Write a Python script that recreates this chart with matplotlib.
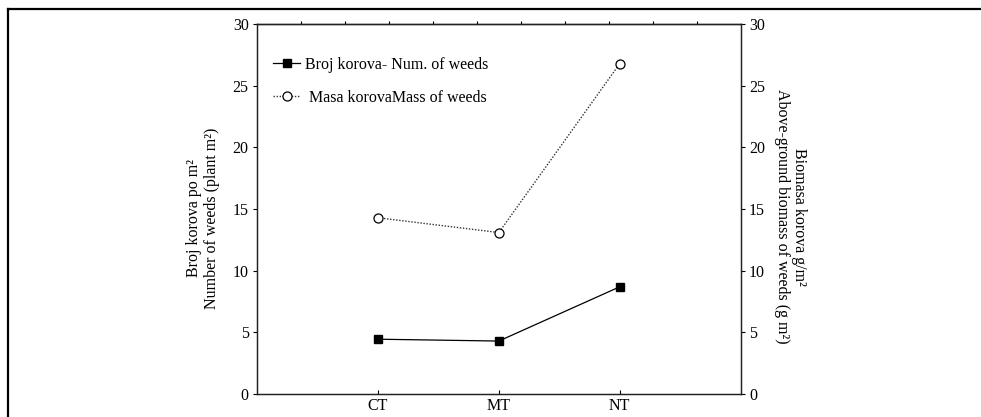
import numpy as np
import matplotlib
matplotlib.use("Agg")
import matplotlib.pyplot as plt
from matplotlib.lines import Line2D

# tillage systems
systems = ["CT", "MT", "NT"]
# number of weeds (plant m2)
weed_number = [4.45, 4.3, 8.7]
# above-ground biomass of weeds (g m2)
weed_mass = [14.3, 13.1, 26.8]

plt.rcParams["font.family"] = ["Liberation Serif", "DejaVu Serif"]
plt.rcParams["font.size"] = 11.5

fig = plt.figure(figsize=(9.81, 4.17), dpi=100)
ax = fig.add_axes([0.262, 0.055, 0.493, 0.887])

x = np.arange(1, len(systems) + 1)

# left axis - number of weeds
l1, = ax.plot(x, weed_number, color="black", lw=0.9, marker="s", ms=6,
              mfc="black", mec="black", label="Broj korova- Num. of weeds")
ax.set_xlim(0, 4)
ax.set_ylim(0, 30)
ax.set_xticks(x)
ax.set_xticklabels(systems)
ax.set_yticks(range(0, 31, 5))
ax.tick_params(axis="y", direction="out", length=3, width=0.8, pad=3)
ax.tick_params(axis="x", direction="in", length=3, width=0.8, pad=3)
ax.set_ylabel("Broj korova po m²\nNumber of weeds (plant m²)",
              linespacing=1.15)
ax.yaxis.set_label_coords(-0.076, 0.476)

# right axis - biomass
ax2 = ax.twinx()
l2, = ax2.plot(x, weed_mass, color="#333333", lw=1.0, ls=(0, (1, 1.2)),
               marker="o", ms=6.5, mfc="white", mec="black", mew=0.9,
               label=" Masa korovaMass of weeds")
ax2.set_ylim(0, 30)
ax2.set_yticks(range(0, 31, 5))
ax2.tick_params(axis="y", direction="out", length=3, width=0.8, pad=3)
ax2.set_ylabel("Biomasa korova g/m²\nAbove-ground biomass of weeds (g m²)",
               rotation=270, linespacing=1.15, va="center")
ax2.yaxis.set_label_coords(1.103, 0.48)

# top ticks without labels
top = ax.secondary_xaxis("top")
top.set_xticks(np.linspace(0, 4, 12)[1:-1])
top.set_xticklabels([])
top.tick_params(direction="out", length=2.5, width=0.8)

for a in (ax, ax2):
    for s in a.spines.values():
        s.set_linewidth(0.9)
        s.set_color("#222222")
top.spines["top"].set_linewidth(0.9)

ax.legend(handles=[l1, l2], loc="upper left", bbox_to_anchor=(0.0, 0.955),
          frameon=False, handlelength=1.7, handletextpad=0.3,
          labelspacing=1.05, borderaxespad=0.6)

# frame lines of the figure panel
fig.add_artist(Line2D([0.008, 1.0], [0.978, 0.978], color="black", lw=1.6,
                      transform=fig.transFigure))
fig.add_artist(Line2D([0.008, 0.008], [0.0, 0.978], color="black", lw=1.6,
                      transform=fig.transFigure))

fig.savefig("out.png", dpi=100)
